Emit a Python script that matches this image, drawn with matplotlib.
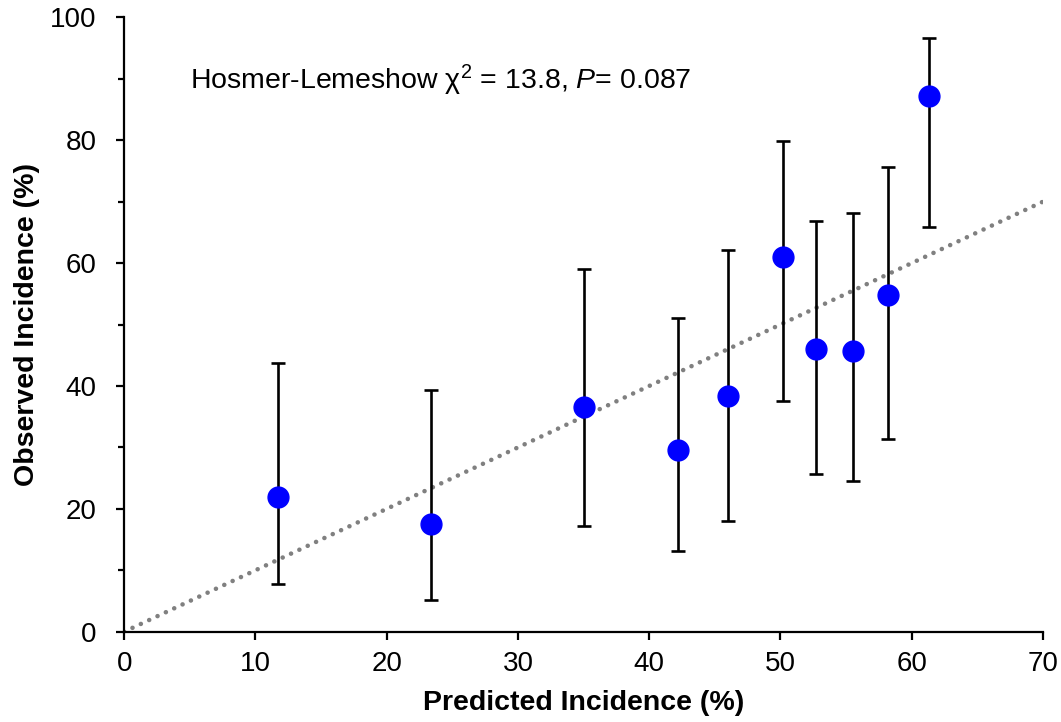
import numpy as np
import matplotlib
matplotlib.use("Agg")
import matplotlib.pyplot as plt

plt.rcParams['font.family'] = ['Liberation Sans', 'DejaVu Sans']
plt.rcParams['mathtext.fontset'] = 'custom'
plt.rcParams['mathtext.rm'] = 'Liberation Sans'
plt.rcParams['mathtext.it'] = 'Liberation Sans:italic'

# datos
predicted = [11.7, 23.4, 35.0, 42.2, 46.0, 50.2, 52.7, 55.5, 58.2, 61.3]
observed = [21.9, 17.5, 36.6, 29.6, 38.4, 61.0, 46.0, 45.7, 54.8, 87.2]
ci_low = [7.7, 5.2, 17.2, 13.2, 18.0, 37.6, 25.6, 24.5, 31.4, 65.8]
ci_high = [43.8, 39.4, 59.1, 51.1, 62.1, 79.9, 66.8, 68.2, 75.6, 96.7]

x_ticks = [0, 10, 20, 30, 40, 50, 60, 70]
y_ticks = [0, 20, 40, 60, 80, 100]
y_minor = [10, 30, 50, 70, 90]
diagonal = [0, 70]

fig = plt.figure(figsize=(10.61, 7.22), dpi=100)
ax = fig.add_axes([0.117, 0.125, 0.866, 0.851])

# linea de calibracion perfecta
ax.plot(diagonal, diagonal, color='#808080', lw=3.3,
        linestyle=(0, (0.01, 2.0)), dash_capstyle='round', zorder=1)

obs = np.array(observed)
yerr = [obs - np.array(ci_low), np.array(ci_high) - obs]
ax.errorbar(predicted, observed, yerr=yerr, fmt='none', ecolor='black',
            elinewidth=1.9, capsize=5, capthick=1.9, zorder=2)
ax.plot(predicted, observed, 'o', color='#0000FF', markersize=15, zorder=3)

ax.text(5.0, 88.3, r'Hosmer-Lemeshow χ$^2$ = 13.8, $\mathit{P}$= 0.087',
        fontsize=20.5, va='baseline', ha='left')

ax.set_xlim(0, 70)
ax.set_ylim(0, 100)
ax.set_xticks(x_ticks)
ax.set_yticks(y_ticks)
ax.set_yticks(y_minor, minor=True)

for s in ['top', 'right']:
    ax.spines[s].set_visible(False)
for s in ['left', 'bottom']:
    ax.spines[s].set_linewidth(1.6)

ax.tick_params(axis='both', which='major', labelsize=20, width=1.6, length=6)
ax.tick_params(axis='x', pad=8)
ax.tick_params(axis='y', pad=14)
ax.tick_params(axis='y', which='minor', width=1.6, length=4)

ax.set_xlabel('Predicted Incidence (%)', fontsize=20.5, fontweight='bold', labelpad=9)
ax.set_ylabel('Observed Incidence (%)', fontsize=20.5, fontweight='bold', labelpad=7)

fig.savefig('out.png', dpi=100)
